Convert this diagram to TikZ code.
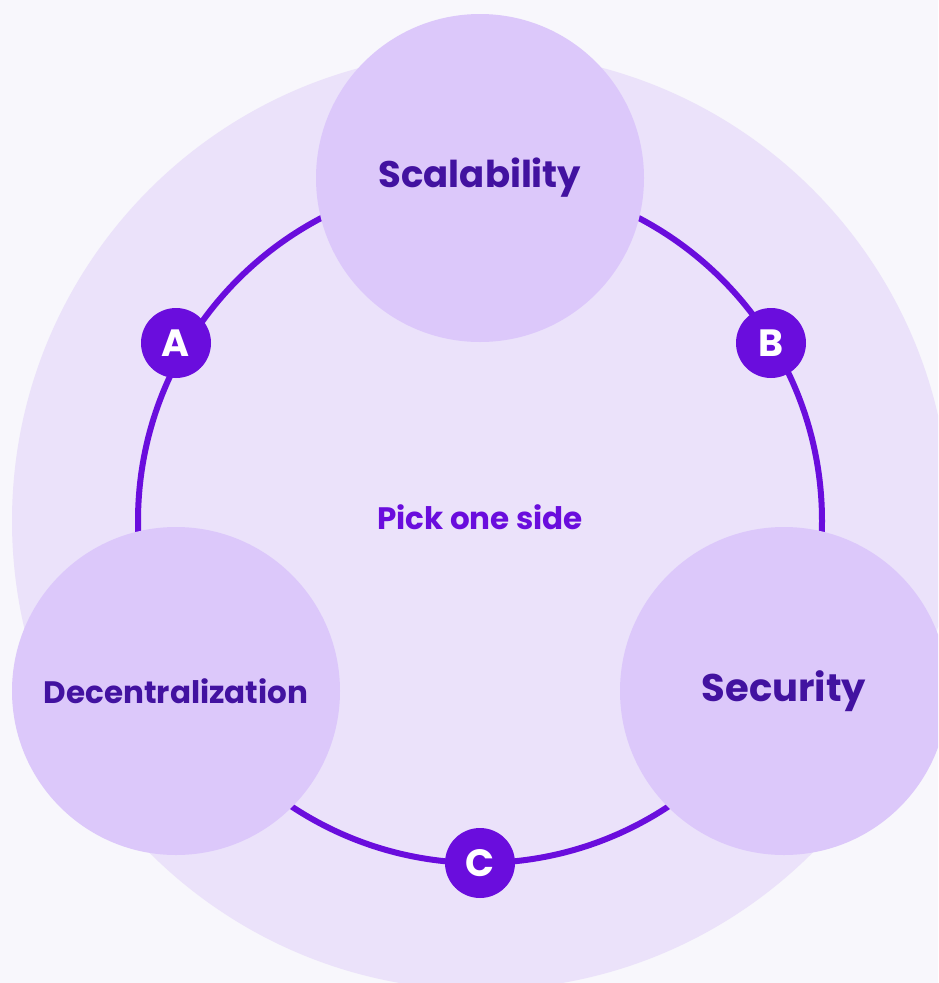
\documentclass[tikz,border=0pt]{standalone}
\usepackage{fontspec}
\setmainfont{Poppins}
\definecolor{bgc}{RGB}{248,247,252}
\definecolor{bigc}{RGB}{235,226,250}
\definecolor{nodec}{RGB}{220,200,250}
\definecolor{ringc}{RGB}{106,13,221}
\definecolor{darkt}{RGB}{66,18,160}
\tikzset{
  corner/.style={circle, fill=nodec, minimum size=328pt, inner sep=0pt, text=darkt, font=\bfseries\fontsize{37}{42}\selectfont},
  badge/.style={circle, fill=ringc, minimum size=70pt, inner sep=0pt, text=white, font=\bfseries\fontsize{38}{42}\selectfont},
  ringline/.style={draw=ringc, line width=6pt}
}
\begin{document}
\begin{tikzpicture}[x=1pt,y=-1pt]
\useasboundingbox (0,0) rectangle (938,983);
\fill[bgc] (0,0) rectangle (938,983);
\clip (0,0) rectangle (938,983);
\fill[bigc] (481,521) circle (469pt);
\draw[ringline] (480,521) circle (342pt);
\node[corner] (scal) at (480,178) {Scalability};
\node[corner, font=\bfseries\fontsize{38.5}{42}\selectfont] (sec) at (784,691) {Security};
\node[corner, font=\bfseries\fontsize{31}{36}\selectfont] (dec) at (176,691) {Decentralization};
\node[text=ringc, font=\bfseries\fontsize{31}{36}\selectfont] (pick) at (480,517) {Pick one side};
\node[badge] (a) at (176,343) {A};
\node[badge] (b) at (771,343) {B};
\node[badge] (c) at (480,863) {C};
\end{tikzpicture}
\end{document}
